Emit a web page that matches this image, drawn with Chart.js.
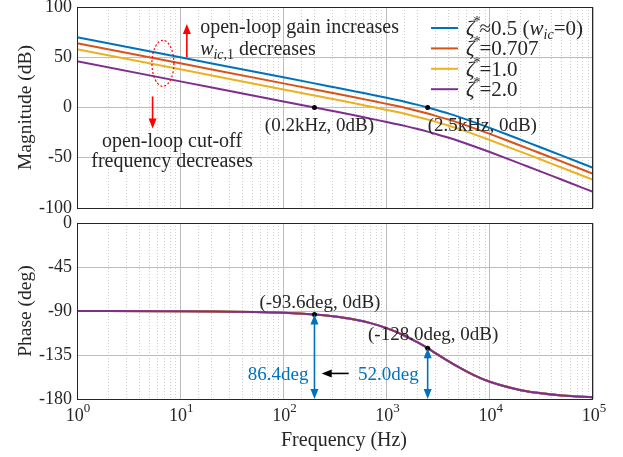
<!DOCTYPE html>
<html>
<head>
<meta charset="utf-8">
<script src="https://cdn.jsdelivr.net/npm/chart.js@4.4.1/dist/chart.umd.min.js"></script>
<style>
html,body{margin:0;padding:0;background:#fff;}
#wrap{position:relative;width:623px;height:457px;}
canvas{position:absolute;left:0;top:0;}
</style>
</head>
<body>
<div id="wrap">
<canvas id="mag" width="623" height="457"></canvas>
<canvas id="phase" width="623" height="457"></canvas>
</div>
<script>
// values
const freqHz=[1,10,100,200,300,500,700,1000,1500,2000,2500,3000,4000,5000,7000,10000,20000,30000,50000,100000];
const magZeta05=[70.0,50.0,30.0,24.0,20.5,16.0,12.9,9.6,5.7,2.6,0.0,-2.3,-6.1,-9.3,-14.5,-20.3,-32.1,-39.0,-47.9,-59.9];
const magZeta0707=[64.0,44.0,24.0,18.0,14.5,10.0,6.9,3.6,-0.3,-3.4,-6.0,-8.3,-12.1,-15.3,-20.5,-26.3,-38.1,-45.0,-53.9,-65.9];
const magZeta10=[58.0,38.0,18.0,12.0,8.5,4.0,0.9,-2.4,-6.3,-9.4,-12.0,-14.3,-18.1,-21.3,-26.5,-32.3,-44.1,-51.0,-59.9,-71.9];
const magZeta20=[46.0,26.0,6.0,0.0,-3.5,-8.0,-11.1,-14.4,-18.3,-21.4,-24.0,-26.3,-30.1,-33.3,-38.5,-44.3,-56.1,-63.0,-71.9,-83.9];
const phaseDeg=[-90.0,-90.2,-91.8,-93.6,-95.4,-98.9,-102.4,-107.5,-115.3,-122.2,-128.0,-133.3,-141.5,-147.5,-155.6,-162.4,-171.0,-173.9,-176.4,-178.2];
const markFreqHz=[200,2500];
const markMagDb=[0,0];
const markPhaseDeg=[-93.6,-128.0];
const zetaValues=['≈0.5','=0.707','=1.0','=2.0'];
const seriesColors=['#0072BD','#D95319','#EDB120','#7E2F8E'];
const decadeExp=[0,1,2,3,4,5];

const serif='"Liberation Serif","Times New Roman",serif';
const txt='#262626';
const blue='#0072BD';
const red='#FF0000';
const magSeries=[magZeta05,magZeta0707,magZeta10,magZeta20];

function pts(ys){return freqHz.map((f,i)=>({x:f,y:ys[i]}));}
function isDecade(v){const l=Math.log10(v);return Math.abs(l-Math.round(l))<1e-9;}

function rich(ctx,x,y,parts,color,size){
    ctx.save();
    ctx.fillStyle=color||txt;
    ctx.textAlign='left';
    ctx.textBaseline='alphabetic';
    for(const p of parts){
        ctx.font=(p.i?'italic ':'')+(p.s||size||18)+'px '+serif;
        x+=p.dx||0;
        ctx.fillText(p.t,x,y+(p.dy||0));
        x+=ctx.measureText(p.t).width;
    }
    ctx.restore();
    return x;
}
function text(ctx,s,x,y,align,size,color){
    ctx.save();
    ctx.font=size+'px '+serif;
    ctx.fillStyle=color||txt;
    ctx.textAlign=align;
    ctx.textBaseline='alphabetic';
    ctx.fillText(s,x,y);
    ctx.restore();
}
function head(ctx,x,y,ang,len,w){
    ctx.beginPath();
    ctx.moveTo(x,y);
    const bx=x-len*Math.cos(ang),by=y-len*Math.sin(ang);
    ctx.lineTo(bx+w*Math.sin(ang),by-w*Math.cos(ang));
    ctx.lineTo(bx-w*Math.sin(ang),by+w*Math.cos(ang));
    ctx.closePath();
    ctx.fill();
}
function arrow(ctx,x1,y1,x2,y2,color,both){
    const a=Math.atan2(y2-y1,x2-x1);
    ctx.save();
    ctx.strokeStyle=color;ctx.fillStyle=color;ctx.lineWidth=1.6;
    ctx.beginPath();
    ctx.moveTo(x1+(both?8*Math.cos(a):0),y1+(both?8*Math.sin(a):0));
    ctx.lineTo(x2-8*Math.cos(a),y2-8*Math.sin(a));
    ctx.stroke();
    head(ctx,x2,y2,a,10,4);
    if(both)head(ctx,x1,y1,a+Math.PI,10,4);
    ctx.restore();
}
function frame(chart){
    const a=chart.chartArea,ctx=chart.ctx;
    ctx.save();
    ctx.strokeStyle=txt;ctx.lineWidth=1;
    ctx.strokeRect(Math.round(a.left)+0.5,Math.round(a.top)+0.5,Math.round(a.right-a.left)-1,Math.round(a.bottom-a.top));
    ctx.restore();
}

function xScales(isBottom){
    return {
        x:{
            type:'logarithmic',min:1,max:100000,position:'bottom',
            ticks:{display:false},
            grid:{drawTicks:false,color:c=>isDecade(c.tick.value)?'#bdbdbd':'rgba(0,0,0,0)',lineWidth:1},
            border:{display:false},
            afterFit:s=>{s.height=isBottom?58:0;s.paddingLeft=0;s.paddingRight=0;}
        },
        x2:{
            type:'logarithmic',min:1,max:100000,position:'bottom',
            ticks:{display:false},
            grid:{drawTicks:false,color:c=>isDecade(c.tick.value)?'rgba(0,0,0,0)':'#cfcfcf',lineWidth:1},
            border:{display:false,dash:[1,2]},
            afterFit:s=>{s.height=0;s.paddingLeft=0;s.paddingRight=0;}
        }
    };
}
function yScale(min,max,step,title,tpad){
    return {
        type:'linear',min:min,max:max,
        ticks:{stepSize:step,color:txt,font:{family:serif,size:18},padding:5},
        grid:{drawTicks:false,color:'#bdbdbd'},
        border:{display:false},
        title:{display:true,text:title,color:txt,font:{family:serif,size:19.5},padding:{top:14,bottom:0}},
        afterFit:s=>{s.width=77;s.paddingTop=0;s.paddingBottom=0;}
    };
}

const magAnno={
    id:'magAnno',
    afterDraw(chart){
        const ctx=chart.ctx,sx=chart.scales.x,sy=chart.scales.y,a=chart.chartArea;
        frame(chart);
        // dashed ellipse
        ctx.save();
        ctx.strokeStyle=red;ctx.lineWidth=1.2;ctx.setLineDash([2,2]);
        ctx.beginPath();
        ctx.ellipse(sx.getPixelForValue(6.8),sy.getPixelForValue(44),11,23,0,0,Math.PI*2);
        ctx.stroke();
        ctx.restore();
        // red arrows
        const ux=sx.getPixelForValue(11.6);
        arrow(ctx,ux,sy.getPixelForValue(50),ux,sy.getPixelForValue(83),red,false);
        const dx=sx.getPixelForValue(5.4);
        arrow(ctx,dx,sy.getPixelForValue(11),dx,sy.getPixelForValue(-21),red,false);
        const tx=sx.getPixelForValue(15.6);
        text(ctx,'open-loop gain increases',tx,sy.getPixelForValue(74),'left',20);
        rich(ctx,tx,sy.getPixelForValue(52.5),[{t:'w',i:1},{t:'ic',i:1,s:14,dy:4},{t:',1',s:14,dy:4},{t:' decreases'}],txt,20);
        const cx=sx.getPixelForValue(8.33);
        text(ctx,'open-loop cut-off',cx,sy.getPixelForValue(-39.5),'center',20);
        text(ctx,'frequency decreases',cx,sy.getPixelForValue(-59.5),'center',20);
        // point labels
        const p1=sx.getPixelForValue(markFreqHz[0]),p2=sx.getPixelForValue(markFreqHz[1]);
        const py=sy.getPixelForValue(markMagDb[0]);
        text(ctx,'(0.2kHz, 0dB)',p1+5,py+23.5,'center',19);
        text(ctx,'(2.5kHz, 0dB)',p2,py+23.5,'left',19);
        // legend
        const lx=a.right-162,tx2=a.right-127;
        zetaValues.forEach((v,i)=>{
            const y=a.top+21+i*20.4;
            ctx.save();
            ctx.strokeStyle=seriesColors[i];ctx.lineWidth=2;
            ctx.beginPath();ctx.moveTo(lx,y);ctx.lineTo(lx+27,y);ctx.stroke();
            ctx.restore();
            const parts=[{t:'ζ',i:1},{t:'*',s:14,dy:-9,dx:-1},{t:v,dx:-1}];
            if(i===0)parts.push({t:' ('},{t:'w',i:1},{t:'ic',i:1,s:14,dy:4},{t:'=0)'});
            rich(ctx,tx2,y+7,parts,txt,21);
        });
    }
};

const phaseAnno={
    id:'phaseAnno',
    afterDraw(chart){
        const ctx=chart.ctx,sx=chart.scales.x,sy=chart.scales.y,a=chart.chartArea;
        frame(chart);
        const p1=sx.getPixelForValue(markFreqHz[0]),p2=sx.getPixelForValue(markFreqHz[1]);
        const y1=sy.getPixelForValue(markPhaseDeg[0]),y2=sy.getPixelForValue(markPhaseDeg[1]);
        const yb=sy.getPixelForValue(-180);
        arrow(ctx,p1,y1,p1,yb,blue,true);
        arrow(ctx,p2,y2,p2,yb,blue,true);
        text(ctx,'(-93.6deg, 0dB)',p1+5.5,y1-7,'center',19);
        text(ctx,'(-128.0deg, 0dB)',p2+5.5,y2-8,'center',19);
        const ty=sy.getPixelForValue(-160.5);
        text(ctx,'86.4deg',p1-6,ty,'right',19,blue);
        text(ctx,'52.0deg',p2-9,ty,'right',19,blue);
        arrow(ctx,p2-79,ty-6.5,p2-106,ty-6.5,'#000',false);
        // decade tick labels
        decadeExp.forEach(k=>{
            const x=sx.getPixelForValue(Math.pow(10,k));
            ctx.save();
            ctx.font='18px '+serif;
            const w1=ctx.measureText('10').width;
            ctx.font='13px '+serif;
            const w2=ctx.measureText(String(k)).width;
            ctx.restore();
            rich(ctx,x-(w1+w2)/2+1,a.bottom+22,[{t:'10'},{t:String(k),s:13,dy:-9}],txt,18);
        });
        // x axis title sits a little right of centre in the original
        text(ctx,'Frequency (Hz)',(a.left+a.right)/2+9,a.bottom+47,'center',20);
    }
};

new Chart(document.getElementById('mag'),{
    type:'line',
    data:{datasets:[
        ...magSeries.map((s,i)=>({data:pts(s),borderColor:seriesColors[i],borderWidth:2,pointRadius:0,cubicInterpolationMode:'monotone',xAxisID:'x'})),
        {data:markFreqHz.map((f,i)=>({x:f,y:markMagDb[i]})),showLine:false,pointRadius:2.5,pointBackgroundColor:'#000',pointBorderWidth:0,xAxisID:'x',order:-1}
    ]},
    options:{
        responsive:false,animation:false,
        layout:{padding:{top:7,bottom:249,left:0,right:30}},
        plugins:{legend:{display:false},tooltip:{enabled:false}},
        scales:{...xScales(false),y:yScale(-100,100,50,'Magnitude (dB)')}
    },
    plugins:[magAnno]
});

// chart.js paints lower index on top, so purple goes first here
new Chart(document.getElementById('phase'),{
    type:'line',
    data:{datasets:[
        {data:markFreqHz.map((f,i)=>({x:f,y:markPhaseDeg[i]})),showLine:false,pointRadius:2.5,pointBackgroundColor:'#000',pointBorderWidth:0,xAxisID:'x'},
        ...seriesColors.slice().reverse().map(c=>({data:pts(phaseDeg),borderColor:c,borderWidth:2,pointRadius:0,cubicInterpolationMode:'monotone',xAxisID:'x'}))
    ]},
    options:{
        responsive:false,animation:false,
        layout:{padding:{top:223,bottom:0,left:0,right:30}},
        plugins:{legend:{display:false},tooltip:{enabled:false}},
        scales:{...xScales(true),y:yScale(-180,0,45,'Phase (deg)')}
    },
    plugins:[phaseAnno]
});
</script>
</body>
</html>
